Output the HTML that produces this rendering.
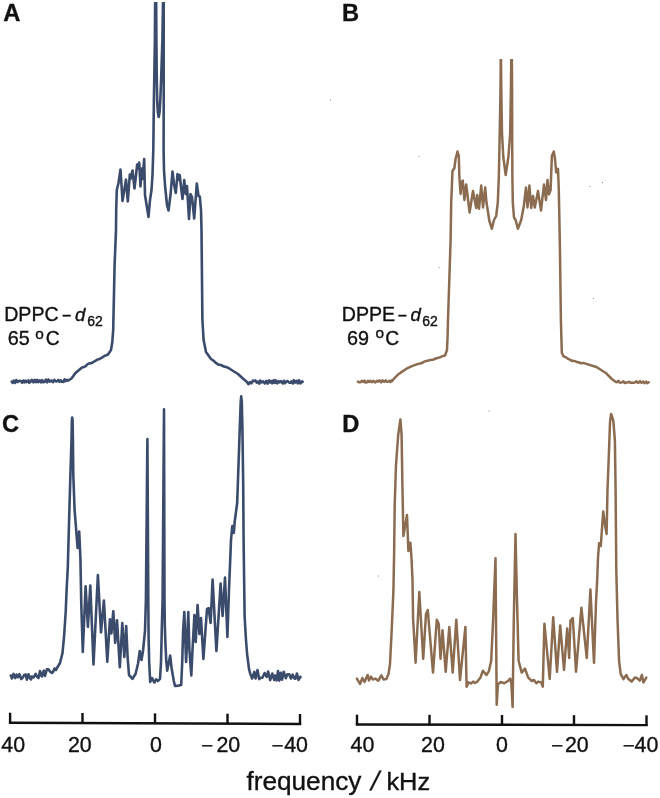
<!DOCTYPE html>
<html><head><meta charset="utf-8"><title>2H NMR spectra</title>
<style>
html,body{margin:0;padding:0;background:#fff;}
svg{display:block;font-family:"Liberation Sans",sans-serif;}
text{fill:#111;stroke:#111;stroke-width:0.35px;}
</style></head><body>
<svg width="660" height="798" viewBox="0 0 660 798">
<rect width="660" height="798" fill="#fff"/>
<defs>
<clipPath id="ca"><rect x="0" y="2" width="330" height="400"/></clipPath>
<clipPath id="cb"><rect x="330" y="59" width="330" height="340"/></clipPath>
</defs>
<polyline points="11.8,381.6 12.8,382.9 13.9,380.6 15.3,382.8 16.3,380.2 17.8,381.9 19.3,380.8 20.9,381 22.2,382.8 23.3,380.5 24.4,382.3 25.5,380.7 26.7,382.1 28.3,380.3 29.3,382.8 30.3,382 31.8,379.8 33.4,382.4 34.7,379.8 36,382.2 37.1,379.9 38.2,382.1 39.6,380.3 40.9,382.3 42.1,380.1 43.1,382.2 44.5,381.9 45.8,379.5 47.1,382.3 48.4,379.5 49.7,381.6 51.3,380.5 52.9,382.2 54.4,379.9 55.7,381.3 57,381.4 58.3,380 59.6,381.8 60.9,380.3 61.9,381.8 63.5,382 64.6,379.3 65.6,381.1 67.1,379.9 68,380.6 71.5,378.5 75.5,373 82,367.5 83.9,367.1 85.7,366.2 87.6,364.2 89.4,363.3 91.3,363.3 93.1,362.2 95,361.2 96.9,359.8 98.7,359.3 100.6,358.3 102.4,357.4 104.3,355.9 106.1,355.3 108,354.5 111,350 112.3,342 113.2,330 114.6,265 116,230 116.2,210 116.8,190 118.5,183 120.5,169.5 121.5,185 122.5,201 124,192 126,179.5 127,192 127.8,201.5 129.8,174.5 130.5,179 132.5,170.5 134.5,188.5 137.2,164.5 138,168.5 139.2,162.5 140.5,186.5 141.8,168.5 142.5,179 144.2,159 145,195 148.5,217 150,200 151.5,190 152.5,175 153.3,150 153.9,100 154.9,40 155.2,-10 156.1,-10 156.4,40 156.8,80 157.2,100 157.8,112 158.7,117 159.6,112 160.3,100 161.1,80 162.4,40 163.2,-10 163.7,-10 163.7,40 163.7,100 163.6,150 164,170 165,185 167,205 168.5,210.5 170.5,195 172.5,171.5 174,184 175.8,193 177.5,174 178.5,180 179.7,175 181,187 182.5,199 184.2,180 185.8,194 187,186 189,219 190.5,194 192,197 194.2,218.5 196.8,183.5 198.5,196 199.8,196.5 201,210 201.5,230 202.4,320 203.6,340 206,352 211,359 213.3,360.5 215.7,362.7 218,364.4 220,364.8 222,365.5 224,366.6 226,367.1 228,367.7 230,369 238,374 244,379.5 246.5,381.5 248.5,384.2 250,382 251.4,383.4 253,380.6 254,381 255.4,380.4 256.7,382.7 258,381.6 259.2,383.6 260.2,380.5 261.6,382.5 263.2,381.3 264.8,383.5 266.5,380.8 267.6,383.6 269.2,380.4 270.4,382.5 271.4,381.1 272.3,383.2 273.5,380.4 274.6,382.9 275.6,380.2 277.1,383.4 278.6,381 279.5,382.3 281.2,381.2 282.8,383.5 284,380.8 285,383.2 286.6,381.4 287.5,381 289.2,382.7 290.5,382.7 291.5,381.3 293,383.5 293.9,380.2 295.2,382.5 296.7,380.8 297.7,383.4 299,380.3 300.4,383.4 302,381.3 302.6,381.8" fill="none" stroke="#3b4b6c" stroke-width="2.6" stroke-linejoin="round" stroke-linecap="round" clip-path="url(#ca)"/>
<polyline points="357.9,381.6 359.3,382.3 360.6,382.3 361.8,380.8 363.4,381.9 364.5,380.6 365.5,382.6 367,382.3 368,380.8 369.1,382 370.5,380.8 371.9,382.2 373.5,380.8 375.3,382.5 376.9,380.8 378.1,381.7 379.4,380.4 381.2,382.3 382.3,380.3 384.1,381.9 385.7,380.4 386.7,381.8 388.3,381.6 389.4,380.9 390.5,382 391.7,380.3 392,381.2 394.7,377.8 398,374.6 401,372.4 406.5,368.7 412,366.2 416,364.6 418.1,363.9 420.1,363.5 422.2,362.8 424.3,361.7 426.4,360.9 428.4,360.6 430.5,359.9 432.6,359.8 434.6,359 436.7,358.3 438.8,357.6 440.9,357 442.9,355.9 445,355.6 447,350 447.6,336 448,320 450.6,240 451.2,202.5 452.5,171 454.4,168 455.6,158.8 457.5,151.5 458.8,156 459.4,177.5 460.6,194 461.5,182.5 462.8,180.5 464.4,200 466.2,184.4 467.6,196 469.6,212.5 473,191 476.2,208 477.2,195 479,208.8 481.2,185.6 483,207.5 485.2,187.5 486.5,202.5 489.4,221 491.9,228.8 494,220 496.2,216 497.8,202.5 498.8,177.5 499.6,140 500.5,90 500.8,50 500.9,50 501.3,90 502,133 503.3,157 505.7,175 508.4,157 510.2,133 510.9,90 511.4,50 511.8,50 512.1,90 512.2,140 512.4,177.5 512.8,202.5 514,217.5 515.6,220 517.9,228.8 521.2,220 523.8,206 526,187.5 527.5,207.5 529.4,185.6 531.2,208 533,196 534.8,207.5 538,191 541,210.6 544,184.4 546,200 547.5,180 549,194.4 550.6,190 551.9,156 553.8,151.5 555,158.8 556.2,172.5 558,168.8 558.8,190 559.8,240 560.9,320 561.8,352.7 563.6,356.4 565.9,357.3 568.2,358.9 570.4,360 572.7,361 574.8,361 577,362.1 579.1,362.5 581.2,363.2 583.4,362.9 585.5,363.6 596.4,367 605.5,372.7 611.8,379 615.5,381.8 617.3,382.2 618.4,380.8 620.1,382.8 621.9,382.4 623.5,381.4 624.7,383 626.3,382.5 627.7,382.5 629.1,381.7 630.4,382.8 631.9,382.7 633.7,382.8 634.7,382.5 636.5,381.2 637.7,382.8 638.8,382.5 640.1,381.2 641.4,382.8 643.2,381.6 644.5,383.1 646.2,381.6 647.2,383.2 648.7,382.2" fill="none" stroke="#8c6c50" stroke-width="2.5" stroke-linejoin="round" stroke-linecap="round" clip-path="url(#cb)"/>
<polyline points="10.8,675.5 12,678.4 13.5,673.9 15.3,678.1 16.5,674.6 18.1,677.2 19.4,674.2 21.3,679 22.9,677.4 24.4,674.7 25.8,674.6 26.9,679.7 28.5,674.3 29.7,677.7 31,679.5 31.7,676.5 33.6,677.5 35.6,673.8 37.2,677 38.5,678 40,671 41.9,676.5 43.8,670.7 45,675.9 46.9,669.4 48.4,669.2 50,671.5 51.9,673 53,671.9 54.5,668.5 56,670 56.7,668.5 60,663 62.5,653 64.2,635 65.8,610 66.6,590 67.8,567.6 68.4,545 69.4,510 70.4,475 71.5,440 71.9,420 72.2,417.6 72.6,420 72.9,440 73.3,475 74.6,510 76.2,530 77.6,548 79.2,531.5 80.4,558 81.3,605 82.8,652 85.6,586.4 87.9,626.8 90.3,585.5 93.5,664.4 97.9,575 101,632.4 103.9,600.5 107.3,661.6 109.9,619.3 111.4,633.4 113.3,611.2 115.2,642.8 117,620.2 119.8,667.2 122.3,623 124.3,657 126.2,626 127.6,657 129,675 132.5,678.8 135.6,673.8 138,663.8 139.8,651 141.5,660 143,651 145,631 145.9,600 147.4,439 148.3,600 148.6,637.5 149.2,662.5 150.2,682 151.9,678 154.4,682.5 156.2,679.4 158,681 160,678.8 161,662.5 161.9,625 162.6,600 164,409.2 164.5,600 164.8,625 165.4,642.5 166.2,660 167.2,670.6 168.8,662.5 170.2,655.6 171.5,667.5 173.8,681 175,686 178.8,685.6 181.2,685 182.3,660 183.1,631 184.3,612 185.2,637.5 186.1,662 188.3,612 189.4,650 191.3,675.5 192.5,650 194.4,615 195.7,642 197.6,605 199.4,634 201,618 203.4,659 207,609 208.6,608 210.6,623 212.6,579.6 216.4,651 220.6,583.6 222.6,616 225,577.6 227.4,637 229,590 231,540 232.3,526 233.8,533 234.7,521.6 237.2,502.8 238.5,465 239.8,427.6 240.7,402 241.2,396.4 241.8,402 242.4,427.6 243.2,484 243.6,540 244.6,616 246,640 247.1,654 249,668.8 250.2,673.6 252.1,678.5 254.3,671.9 255.6,678.5 257.5,670.1 259.2,679.1 260.5,677.9 262.4,677.8 264.6,673 266.6,677 268.1,671.5 270.2,680.1 272.3,673.6 274.2,679.9 275,675.5 276.6,680.3 278,671.1 279.2,680.6 280.7,672.8 282,679.8 283.7,671.7 285.8,678.2 287.4,674.3 289.3,674.4 290.9,678.5 292.6,674.6 294.3,678.4 295.5,678.6 296.9,673.6 298.6,679.9 300.5,676.8" fill="none" stroke="#3b4b6c" stroke-width="2.6" stroke-linejoin="round" stroke-linecap="round" />
<polyline points="356.9,678.6 360,684 362.4,678 364.5,682 367.6,675 369,680.5 371,676.5 372.7,679.5 375.5,678.6 378.2,680.8 381.3,675.4 383.6,679.5 386.4,679 388.5,674 390,664 391.8,627.7 393.4,591.4 394.1,555 394.7,505 396,465 398.2,435 400.4,419.4 401.6,435 402.4,485 403,515 403.4,536 407,515 408.4,551 410.4,542.6 411.6,560 412.5,580 413.1,618.9 415.6,662.8 419.3,592 423.2,658.8 426,614 427.8,610 433,672.6 436.8,619.7 438.7,623.7 440.5,658.8 442.5,630.3 445.7,671.8 449.3,627 452.7,672.6 456.3,619.7 460,680 465.4,627 466.6,686.8 468.5,682.4 471,683.4 473.4,681.6 475,683 476.9,682 480.5,677.4 482.9,670.7 486.4,675 488.8,671.4 491.2,660.7 493.1,620.2 495.5,558.3 496,620 496.7,704.8 497.9,684.5 500.7,682 504.3,683.3 507.9,681 510.2,678.6 511.4,684 512.6,707 513.8,620 515.5,534 516.9,596.4 518.6,660.7 521.7,672.6 525,668.6 528.1,677.4 531.7,681 534,680 536.4,683.3 538.3,681.6 541.2,682.4 542.8,686.6 544.4,623.7 549.7,679 553.2,617.2 557,671.8 560.2,625.4 564,670 567.2,628.6 569.2,658 570.5,620.5 572.8,618 576,671.8 581.4,607.8 586.8,658 590.4,589.5 594,662.8 596,602.6 597.2,579.7 598,557.7 599.1,543.2 600.8,546 601.6,534 603.2,511.5 605,525 606.6,534 607.5,490 608.8,456.3 610,422.5 611.1,414 613.3,420.3 614.9,440.5 615.6,490 616.3,570 617.5,618.9 619.1,661.2 620.7,674.2 623.5,679.1 626.3,675 628.4,679.1 631.6,681.6 634.9,677.5 637.3,678.3 639.8,680.7 641.9,675 643.5,682.4 646.3,677.5" fill="none" stroke="#8c6c50" stroke-width="2.5" stroke-linejoin="round" stroke-linecap="round" />
<circle cx="419" cy="156.5" r="0.6" fill="#444" opacity="0.7"/>
<circle cx="602.5" cy="182.5" r="0.6" fill="#444" opacity="0.7"/>
<circle cx="590" cy="186.5" r="0.6" fill="#444" opacity="0.7"/>
<circle cx="439" cy="267.5" r="0.6" fill="#444" opacity="0.7"/>
<circle cx="593.5" cy="298.5" r="0.6" fill="#444" opacity="0.7"/>
<circle cx="489" cy="411" r="0.6" fill="#444" opacity="0.7"/>
<circle cx="378.4" cy="576" r="0.6" fill="#444" opacity="0.7"/>
<circle cx="330.5" cy="100" r="0.6" fill="#444" opacity="0.7"/>
<g stroke="#111" stroke-width="2.4" fill="none" stroke-linecap="butt"><line x1="8.9" y1="722.7" x2="301.2" y2="724.0"/><line x1="10.1" y1="712.7" x2="10.1" y2="723.3000000000001"/><line x1="82.5" y1="713.02" x2="82.5" y2="723.62"/><line x1="155" y1="713.35" x2="155" y2="723.95"/><line x1="227.5" y1="713.67" x2="227.5" y2="724.27"/><line x1="300" y1="714.0" x2="300" y2="724.6"/></g>
<g stroke="#111" stroke-width="2.4" fill="none" stroke-linecap="butt"><line x1="355.8" y1="724.5" x2="647.7" y2="725.1"/><line x1="357" y1="714.7" x2="357" y2="725.1"/><line x1="429.5" y1="714.85" x2="429.5" y2="725.25"/><line x1="502" y1="715.0" x2="502" y2="725.4"/><line x1="574" y1="715.1500000000001" x2="574" y2="725.5500000000001"/><line x1="646.5" y1="715.3000000000001" x2="646.5" y2="725.7"/></g>
<text x="1.3" y="752.1" font-size="21.4" >40</text>
<text x="67.9" y="752.1" font-size="21.4" >20</text>
<text x="149.9" y="752.1" font-size="21.4" >0</text>
<text x="201.1" y="752.8000000000001" font-size="21.4" style="stroke-width:0">−</text><text x="216.4" y="752.1" font-size="21.4" >20</text>
<text x="271.2" y="752.8000000000001" font-size="21.4" style="stroke-width:0">−</text><text x="284.2" y="752.1" font-size="21.4" >40</text>
<text x="350.5" y="752.2" font-size="21.4" >40</text>
<text x="421.1" y="752.2" font-size="21.4" >20</text>
<text x="496.1" y="752.2" font-size="21.4" >0</text>
<text x="551" y="752.9000000000001" font-size="21.4" style="stroke-width:0">−</text><text x="564.9" y="752.2" font-size="21.4" >20</text>
<text x="622.6" y="752.9000000000001" font-size="21.4" style="stroke-width:0">−</text><text x="634.5" y="752.2" font-size="21.4" >40</text>
<text x="246.4" y="790.4" font-size="26.2" >frequency</text>
<g transform="translate(369.6,790.1) skewX(-13.5)"><text x="0" y="0" font-size="26.5" >/</text></g>
<text x="386.4" y="790.4" font-size="24.2" textLength="43.8" lengthAdjust="spacingAndGlyphs">kHz</text>
<text x="3.3" y="21.2" font-size="23.7" font-weight="bold">A</text>
<text x="342" y="21.2" font-size="23.7" font-weight="bold">B</text>
<text x="2.0" y="431.9" font-size="23.7" font-weight="bold">C</text>
<text x="342.2" y="431.5" font-size="23.7" font-weight="bold">D</text>
<text x="4.2" y="321" font-size="19.6" >DPPC</text>
<text x="62.8" y="319.6" font-size="19" textLength="7.8" lengthAdjust="spacingAndGlyphs">–</text>
<text x="75.0" y="321" font-size="18.6" font-style="italic">d</text>
<text x="87.3" y="325.5" font-size="14" >62</text>
<text x="7.8" y="345.2" font-size="19.8" >65</text>
<text x="35.2" y="338.9" font-size="15.4" >o</text>
<text x="45.8" y="345.2" font-size="19.3" >C</text>
<text x="341.8" y="320.8" font-size="19.6" >DPPE</text>
<text x="398.4" y="319.8" font-size="19" textLength="7.8" lengthAdjust="spacingAndGlyphs">–</text>
<text x="410.4" y="320.8" font-size="18.6" font-style="italic">d</text>
<text x="422.3" y="325.5" font-size="14" >62</text>
<text x="347" y="344.8" font-size="19.8" >69</text>
<text x="375.5" y="338.3" font-size="15.4" >o</text>
<text x="385.2" y="344.8" font-size="19.3" >C</text>
</svg></body></html>
